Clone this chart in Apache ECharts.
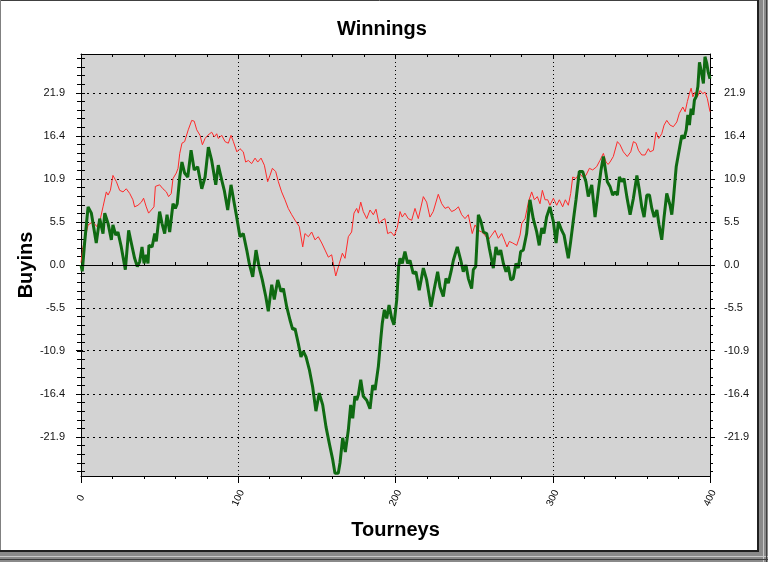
<!DOCTYPE html>
<html><head><meta charset="utf-8">
<script src="https://cdn.jsdelivr.net/npm/echarts@6/dist/echarts.min.js"></script>
<style>html,body{margin:0;padding:0;background:#fff}#c{width:768px;height:562px}</style>
</head><body><div id="c"></div>
<script>
const chartTitle = 'Winnings';
const xAxisName = 'Tourneys';
const yAxisName = 'Buyins';
const xTickLabels = [0, 100, 200, 300, 400];
const yTickLabels = [-21.9, -16.4, -10.9, -5.5, 0.0, 5.5, 10.9, 16.4, 21.9];

const redTourneys = [0,1.3,4.5,7.6,10,12,14,16.1,17.2,18.7, 20.3,22.5,24.6,26.7,28.8,31,33,34.1,36.2,38.4, 39.8,41.5,43,44.7,46.4,47.3,50,52.1,54.3,55.7, 57.4,58.5,60.6,61.7,62.8,64.2,65.9,68.2,70.4,72, 73.6,75.7,77.2,78.9,80.6,83.1,84.8,86.3,87.3,89.5, 91.6,93.7,95.4,96.9,99.1,101.1,103.2,104.7,106.4,108.5, 110.7,112.4,114.5,116.6,118.7,120.2,121.7,123.8,125.5,127.6, 129.7,131.8,134,136.1,137.2,138.8,141,142.4,144.6,146.7, 148.8,150.9,153.1,155.2,157.3,159.4,162,164.3,166.2,167.9, 170,172.1,173.6,175.3,176.4,177.9,179.5,181.7,183.8,185.9, 187.6,189.5,191.6,193.3,195,197.1,199.2,201.2,202.9,204.3, 206,208.1,210.3,212.4,214.5,217.7,219.8,221.9,224,227.2, 229.4,231.5,233.6,235.7,237.8,240,242.1,244.2,246.3,248.8, 250.6,252.7,254.8,256.9,259,261.2,263.3,265.4,267.5,269.2, 270.9,272.4,274.5,277.1,279.2,280.3,282.4,284.5,286.6,288.3, 290.2,291.9,293.4,295.1,296.8,298.2,300.4,302.5,304.2,306.3, 308,309.9,311.4,312.7,314.8,316.9,319,321.1,323.3,325.4, 327.9,330,332.2,333.9,335.2,336.4,338.5,341.1,342.8,344.9, 347.4,349.6,351.3,353,354.5,356.6,358.7,360.8,361.9,364, 365.7,367.4,369.3,370.8,372.5,374.6,376.7,378.9,380.5,382.7, 384.2,385.6,386.9,388,389.1,390.5,392,393.7,395.4,396.8, 398.3,400];
const redBuyins = [0.3,2.3,5.1,5.5,4.9,5.6,7.4,9.3,8.9,9.5, 11.4,10.6,9.5,9.3,9.7,9.1,8.3,7.4,7.6,8.0, 8.5,7.4,6.6,7.0,7.4,10.0,10.2,9.7,9.3,8.7, 9.1,11.0,11.7,12.3,14.2,15.5,15.7,17.2,18.4,18.3, 17.2,16.5,15.3,16.1,16.5,16.9,16.3,16.7,16.1,16.5, 15.7,15.5,16.5,15.7,14.4,14.8,14.4,13.1,13.3,12.9, 13.6,13.1,13.6,12.7,10.6,11.4,12.3,11.9,10.6,9.3, 8.3,7.2,6.4,5.7,5.5,4.9,2.3,4.0,3.6,4.2, 3.2,3.6,2.8,1.9,1.0,1.3,-1.4,0.2,1.5,0.85, 3.6,4.2,6.6,7.2,6.6,8.0,6.8,5.9,7.0,6.4, 7.1,5.3,5.7,5.9,4.0,4.2,3.7,4.8,6.8,6.1, 6.6,5.9,5.7,7.2,5.9,8.7,8.0,6.1,6.8,9.0, 7.8,7.2,7.4,6.8,7.0,7.4,6.4,5.9,6.4,4.0, 5.1,4.4,4.2,3.8,3.2,3.8,4.4,3.4,4.0,3.2, 2.3,3.0,2.8,2.5,3.8,5.3,5.9,8.0,9.3,8.3, 8.7,7.8,9.5,8.3,8.3,7.6,8.5,7.6,8.3,7.4, 8.3,7.6,9.1,11.2,11.0,11.7,11.2,11.4,12.3,12.1, 12.5,13.3,14.2,13.1,12.8,13.1,13.8,15.7,15.3,14.4, 13.8,14.4,15.7,15.5,14.6,14.0,14.0,14.8,14.4,14.6, 16.9,16.1,16.7,17.8,18.4,17.8,17.6,18.2,19.3,20.1, 19.5,20.8,21.8,22.5,21.4,22.0,21.4,22.2,21.8,22.0, 21.2,19.5];

const greenTourneys = [0,0.8,2.3,4.5,6.6,9.7,11.9,14,15.1,17.2, 19.3,20.3,22.1,23.5,25.6,28.2,30.3,32,34.1,35.8, 37.3,38.8,40.1,41.5,42.6,43.2,45.2,46.9,47.9,50, 51.5,53.2,54.7,56.4,58.5,60,61.2,62.8,64.2,65.9, 67.9,70,72,74.2,76.8,78.9,81,83.1,85.7,87.3, 89.5,91.1,93.3,95.4,97.5,99,101.1,103.2,105.4,107, 109.2,111.3,113.2,115.3,117.5,119.1,121.3,122.9,125.1,127.2, 128.7,130.8,132.9,134.6,136.1,138.2,139.9,141.4,143.1,145.2, 147.3,149.4,151.5,153.7,155.8,157.9,160.1,161.5,163.6,164.7, 166.4,168.1,170,171.5,172.8,174.2,175.3,176.4,177.9,179.5, 181.7,183.8,185.5,187,189.1,190.6,191.6,192.9,194.4,195.9, 197.6,199,200.8,202,202.9,204.3,206,207.7,209.2,211.3, 213,215.1,217.7,219.8,222.6,224.7,226.8,228.3,230.4,232.1, 233.6,235.3,236.8,237.8,239.3,241.5,243.1,244.8,246.3,248.4, 249.5,251,252.7,254.4,255.9,258,259.7,262.2,263.9,265.4, 266.9,268.6,270.3,271.7,273.3,274.9,276.6,278.1,279.6,281.3, 283.4,285.5,287.6,289.8,291.4,293,294.4,296.1,298.2,300.4, 302.1,303.6,305.7,307.2,308.9,309.9,311.4,313.1,314.8,316.9, 319,321.1,322.6,324.8,326.9,329,330.7,332.2,333.6,334.7, 336.4,338.1,339.6,341.1,342.4,343.9,345.3,347.1,349.2,351.3, 353.5,355.1,356.6,358.1,359.8,361.5,363,364.5,366.2,367.6, 369.3,370.8,372.5,374.6,375.7,376.7,378.5,380,381,382.1, 383.6,384.9,385.9,386.9,388,389.1,390.1,391.2,392.3,393.3, 394.3,395.8,396.8,397.9,398.9,400];
const greenBuyins = [0,-0.8,2.8,7.4,6.6,2.8,5.9,4.0,6.6,5.3, 3.2,5.1,3.8,4.2,2.3,-0.6,4.4,2.8,0.85,-0.2, 0.4,2.3,0.2,1.3,0.2,2.5,2.3,4.0,3.0,6.8, 5.3,4.0,6.4,4.2,7.8,7.2,7.8,11.2,13.1,11.7, 11.2,14.6,12.1,12.5,9.7,11.2,15.0,13.3,10.2,12.7, 10.8,9.5,7.0,10.2,7.8,6.1,3.6,4.0,1.9,0.2, -1.5,1.9,-0.2,-1.9,-4.0,-5.9,-2.5,-4.4,-1.9,-3.4, -3.0,-5.3,-7.0,-8.2,-8.1,-10.0,-11.7,-11.0,-11.7,-13.3, -15.5,-18.6,-16.3,-17.8,-20.6,-22.7,-24.8,-26.5,-26.5,-25.2, -22.0,-23.8,-21.0,-17.8,-19.5,-16.7,-17.2,-16.5,-14.6,-16.7, -17.2,-18.3,-15.3,-15.9,-12.9,-9.5,-7.4,-5.7,-6.8,-5.1, -6.8,-7.6,-4.4,-0.2,0.85,0.2,1.7,0.2,0.6,-1.1, -0.85,-3.2,-0.4,-1.9,-5.3,-3.0,-0.85,-2.8,-4.0,-1.7, -2.3,-0.85,0.6,0.4,2.3,0.6,-0.85,0.0,-1.7,-3.0, -0.6,-0.2,6.4,5.5,4.2,4.0,2.1,-0.4,2.3,1.3, 1.9,0.2,-0.85,-0.2,-1.9,-1.7,0.2,-0.4,1.7,1.9, 4.0,8.3,5.9,4.2,2.5,4.7,4.0,6.1,7.4,5.5, 2.8,5.5,4.4,3.8,1.9,0.85,3.0,5.7,8.3,11.9, 11.9,10.6,8.7,10.2,6.1,9.5,12.1,13.8,12.0,10.6, 10.0,8.9,9.3,8.9,11.2,10.6,11.0,8.7,6.4,8.5, 11.4,9.5,7.4,6.1,8.9,8.9,7.2,6.1,7.0,5.1, 3.2,6.1,9.1,7.6,6.4,8.3,12.5,14.2,15.3,16.5, 16.1,17.2,19.1,17.8,19.9,19.1,21.0,21.4,22.7,25.8, 24.8,23.1,26.5,25.7,24.5,23.7];

const Y_MIN = -26.85, Y_MAX = 26.85;
const MINOR_STEP = 1.095;
const yAllTicks = [], yMinorTicks = [];
for (let k = -24; k <= 24; k++) {
  const v = +(k * MINOR_STEP).toFixed(3);
  yAllTicks.push(v);
  if (k % 5 !== 0) yMinorTicks.push(v);
}
const FONT = 'Liberation Sans, Arial, sans-serif';
const BLACK = '#000';

function yAxisMain(pos) {
  return {
    type: 'value', position: pos, min: Y_MIN, max: Y_MAX,
    name: pos === 'left' ? yAxisName : '',
    nameLocation: 'middle', nameGap: 45, nameRotate: 90, nameMoveOverlap: false,
    nameTextStyle: { fontFamily: FONT, fontSize: 20, fontWeight: 'bold', color: BLACK },
    axisLine: { show: true, onZero: false, lineStyle: { color: BLACK, width: 1 } },
    axisTick: { show: true, customValues: yTickLabels, length: 5, lineStyle: { color: BLACK } },
    axisLabel: { show: true, customValues: yTickLabels, formatter: v => Number(v).toFixed(1),
      color: '#111', fontFamily: FONT, fontSize: 11, margin: pos === 'left' ? 16 : 14 },
    splitLine: { show: pos === 'left', lineStyle: { color: BLACK, width: 1, type: [2, 4] } }
  };
}
function yAxisTicks(pos, inside, values, len) {
  return {
    type: 'value', position: pos, min: Y_MIN, max: Y_MAX,
    axisLine: { show: false },
    axisTick: { show: true, inside: inside, customValues: values, length: len, lineStyle: { color: BLACK } },
    axisLabel: { show: false }, splitLine: { show: false }
  };
}

const option = {
  animation: false,
  backgroundColor: '#ffffff',
  title: {
    text: chartTitle, left: 377, top: 14, textAlign: 'center',
    textStyle: { fontFamily: FONT, fontSize: 20, fontWeight: 'bold', color: BLACK }
  },
  grid: { left: 81, top: 54, width: 629, height: 422, show: true, backgroundColor: '#d3d3d3', borderWidth: 0 },
  xAxis: [
    {
      type: 'value', position: 'bottom', min: 0, max: 400, interval: 100,
      name: xAxisName, nameLocation: 'middle', nameGap: 44, nameMoveOverlap: false,
      nameTextStyle: { fontFamily: FONT, fontSize: 20, fontWeight: 'bold', color: BLACK },
      axisLine: { show: true, onZero: false, lineStyle: { color: BLACK } },
      axisTick: { show: true, length: 7, lineStyle: { color: BLACK } },
      minorTick: { show: true, splitNumber: 5, length: 3, lineStyle: { color: BLACK } },
      axisLabel: { customValues: xTickLabels, rotate: 65, align: 'center', verticalAlign: 'middle',
        margin: 22, color: BLACK, fontFamily: FONT, fontSize: 10, formatter: v => String(v) },
      splitLine: { show: true, lineStyle: { color: BLACK, width: 1, type: [1, 3] } }
    },
    {
      type: 'value', position: 'bottom', min: 0, max: 400, interval: 100,
      axisLine: { show: false },
      axisTick: { show: true, inside: true, length: 3, lineStyle: { color: BLACK } },
      minorTick: { show: true, splitNumber: 5, length: 3, lineStyle: { color: BLACK } },
      axisLabel: { show: false }, splitLine: { show: false }
    },
    {
      type: 'value', position: 'top', min: 0, max: 400, interval: 100,
      axisLine: { show: true, onZero: false, lineStyle: { color: BLACK } },
      axisTick: { show: true, inside: true, length: 5, lineStyle: { color: BLACK } },
      minorTick: { show: true, splitNumber: 5, length: 3, lineStyle: { color: BLACK } },
      axisLabel: { show: false }, splitLine: { show: false }
    }
  ],
  yAxis: [
    yAxisMain('left'),
    yAxisTicks('left', true, yAllTicks, 4),
    yAxisTicks('left', false, yMinorTicks, 3),
    yAxisMain('right'),
    yAxisTicks('right', true, yAllTicks, 4),
    yAxisTicks('right', false, yMinorTicks, 3)
  ],
  graphic: [
    { type: 'rect', silent: true, z: -10, shape: { x: 0, y: 0, width: 768, height: 562 }, style: { fill: '#8a8a8a' } },
    { type: 'rect', silent: true, z: -9, shape: { x: 0, y: 0, width: 759, height: 552 }, style: { fill: '#ffffff' } },
    { type: 'line', silent: true, z: -8, shape: { x1: 0, y1: 0.5, x2: 759, y2: 0.5 }, style: { stroke: '#404040', lineWidth: 1 } },
    { type: 'line', silent: true, z: -8, shape: { x1: 0.5, y1: 0, x2: 0.5, y2: 552 }, style: { stroke: '#808080', lineWidth: 1 } },
    { type: 'line', silent: true, z: -8, shape: { x1: 758, y1: 0, x2: 758, y2: 552 }, style: { stroke: '#202020', lineWidth: 2 } },
    { type: 'line', silent: true, z: -8, shape: { x1: 0, y1: 551, x2: 759, y2: 551 }, style: { stroke: '#202020', lineWidth: 2 } },
    { type: 'line', silent: true, z: -8, shape: { x1: 763.5, y1: 0, x2: 763.5, y2: 562 }, style: { stroke: '#c8c8c8', lineWidth: 1 } },
    { type: 'line', silent: true, z: -8, shape: { x1: 0, y1: 556.5, x2: 768, y2: 556.5 }, style: { stroke: '#c8c8c8', lineWidth: 1 } },
    { type: 'line', silent: true, z: -8, shape: { x1: 766.5, y1: 0, x2: 766.5, y2: 562 }, style: { stroke: '#404040', lineWidth: 1 } },
    { type: 'line', silent: true, z: -8, shape: { x1: 0, y1: 559.5, x2: 768, y2: 559.5 }, style: { stroke: '#404040', lineWidth: 1 } }
  ],
  series: [
    {
      name: 'Red', type: 'line', xAxisIndex: 0, yAxisIndex: 0,
      data: redTourneys.map((t, i) => [t, redBuyins[i]]),
      showSymbol: false, symbol: 'none', smooth: false,
      lineStyle: { color: '#ff2a2a', width: 1 },
      markLine: {
        silent: true, symbol: ['none', 'none'], label: { show: false },
        lineStyle: { color: BLACK, width: 1, type: 'solid' },
        data: [{ yAxis: 0 }]
      },
      z: 3
    },
    {
      name: 'Green', type: 'line', xAxisIndex: 0, yAxisIndex: 0,
      data: greenTourneys.map((t, i) => [t, greenBuyins[i]]),
      showSymbol: false, symbol: 'none', smooth: false,
      lineStyle: { color: '#0f6a12', width: 3 },
      z: 4
    }
  ]
};
const chart = echarts.init(document.getElementById('c'), null, { renderer: 'canvas' });
chart.setOption(option);
</script>
</body></html>
